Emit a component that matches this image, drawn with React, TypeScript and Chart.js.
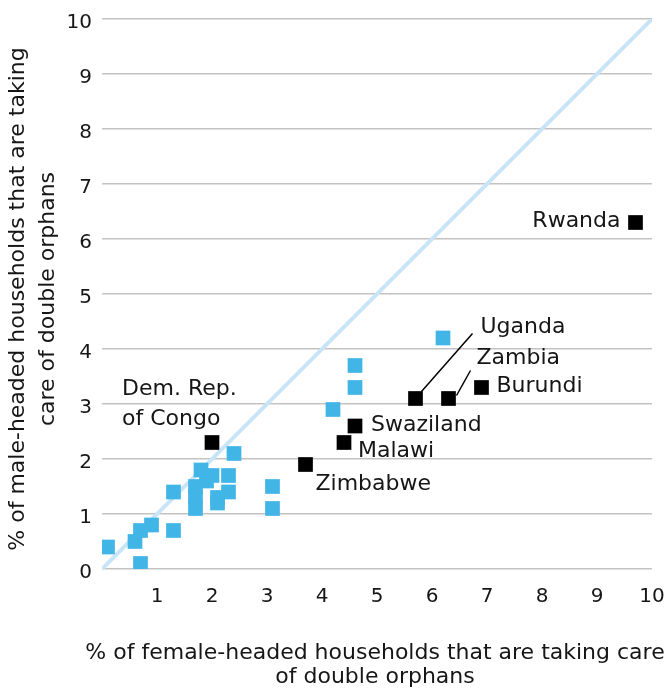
import React, { useEffect, useRef } from "react";
import { Chart, registerables } from "chart.js";

Chart.register(...registerables);

// Blue squares: other countries [female %, male %]
const otherX = [0.1, 0.6, 0.7, 0.9, 0.7, 1.3, 1.3, 1.7, 1.7, 1.7, 1.8, 1.9, 2.0, 2.1, 2.1, 2.3, 2.3, 2.4, 3.1, 3.1, 4.2, 4.6, 4.6, 6.2];
const otherY = [0.4, 0.5, 0.7, 0.8, 0.1, 1.4, 0.7, 1.5, 1.3, 1.1, 1.8, 1.6, 1.7, 1.3, 1.2, 1.7, 1.4, 2.1, 1.5, 1.1, 2.9, 3.3, 3.7, 4.2];

// Black squares: labelled countries
const namedCountries = ["Dem. Rep.\nof Congo", "Zimbabwe", "Malawi", "Swaziland", "Uganda", "Zambia", "Burundi", "Rwanda"];
const namedX = [2.0, 3.7, 4.4, 4.6, 5.7, 6.3, 6.9, 9.7];
const namedY = [2.3, 1.9, 2.3, 2.6, 3.1, 3.1, 3.3, 6.3];

// Equality line
const diagX = [0, 10];
const diagY = [0, 10];

const xTicks = [0, 1, 2, 3, 4, 5, 6, 7, 8, 9, 10];
const yTicks = [0, 1, 2, 3, 4, 5, 6, 7, 8, 9, 10];

const xTitle = ["% of female-headed households that are taking care", "of double orphans"];
const yTitle = ["% of male-headed households that are taking", "care of double orphans"];

const FONT = "'DejaVu Sans', sans-serif";
const TEXT = "#161616";

// label placement relative to the point (pixels): dx, dy, align, optional leader line
const labelStyle: Record<string, { dx: number; dy: number; align: CanvasTextAlign; lead?: number[] }> = {
  "Dem. Rep.\nof Congo": { dx: -90, dy: -53, align: "left" },
  Zimbabwe: { dx: 10, dy: 20, align: "left" },
  Malawi: { dx: 14, dy: 9, align: "left" },
  Swaziland: { dx: 16, dy: -1, align: "left" },
  Uganda: { dx: 65, dy: -71, align: "left", lead: [6, -7, 57, -65] },
  Zambia: { dx: 28, dy: -40, align: "left", lead: [8, -3, 22, -28] },
  Burundi: { dx: 15, dy: -1, align: "left" },
  Rwanda: { dx: -15, dy: -1, align: "right" },
};

const annotate = {
  id: "annotate",
  afterDatasetsDraw(chart: any) {
    const ctx = chart.ctx;
    const xs = chart.scales.x;
    const ys = chart.scales.y;
    ctx.save();
    ctx.fillStyle = TEXT;
    ctx.strokeStyle = "#000";
    ctx.font = `22px ${FONT}`;
    ctx.textBaseline = "middle";
    namedCountries.forEach((name, i) => {
      const px = xs.getPixelForValue(namedX[i]);
      const py = ys.getPixelForValue(namedY[i]);
      const st = labelStyle[name];
      if (st.lead) {
        ctx.lineWidth = 1.5;
        ctx.beginPath();
        ctx.moveTo(px + st.lead[0], py + st.lead[1]);
        ctx.lineTo(px + st.lead[2], py + st.lead[3]);
        ctx.stroke();
      }
      ctx.textAlign = st.align;
      name.split("\n").forEach((line, j) => {
        ctx.fillText(line, px + st.dx, py + st.dy + j * 30);
      });
    });
    ctx.restore();
  },
  afterDraw(chart: any) {
    const ctx = chart.ctx;
    ctx.save();
    ctx.fillStyle = TEXT;
    ctx.font = `22px ${FONT}`;
    ctx.textAlign = "center";
    ctx.textBaseline = "middle";
    ctx.fillText(xTitle[0], 375, 653);
    ctx.fillText(xTitle[1], 375, 677);
    ctx.translate(0, 299);
    ctx.rotate(-Math.PI / 2);
    ctx.fillText(yTitle[0], 0, 18);
    ctx.fillText(yTitle[1], 0, 48);
    ctx.restore();
  },
};

export default function App() {
  const ref = useRef<HTMLCanvasElement>(null);
  useEffect(() => {
    if (!ref.current) return;
    const chart = new Chart(ref.current, {
      type: "scatter",
      data: {
        datasets: [
          {
            type: "line",
            data: diagX.map((x, i) => ({ x, y: diagY[i] })),
            borderColor: "#c8e5f7",
            borderWidth: 4,
            pointRadius: 0,
            order: 3,
          } as any,
          {
            data: otherX.map((x, i) => ({ x, y: otherY[i] })),
            pointStyle: "rect",
            pointRadius: 10.4,
            pointBorderWidth: 0,
            backgroundColor: "#42b5e7",
            borderWidth: 0,
            order: 2,
          },
          {
            data: namedX.map((x, i) => ({ x, y: namedY[i] })),
            pointStyle: "rect",
            pointRadius: 10.4,
            pointBorderWidth: 0,
            backgroundColor: "#000000",
            borderWidth: 0,
            order: 1,
          },
        ],
      },
      options: {
        responsive: false,
        animation: false,
        layout: { padding: { top: 19, right: 18, left: 0, bottom: 0 } },
        plugins: { legend: { display: false }, tooltip: { enabled: false } },
        scales: {
          x: {
            type: "linear",
            min: 0,
            max: 10,
            afterFit: (s: any) => {
              s.height = 123;
              s.paddingLeft = 0;
              s.paddingRight = 0;
            },
            afterBuildTicks: (s: any) => { s.ticks = xTicks.map((v) => ({ value: v })); },
            grid: { display: false, drawTicks: false },
            border: { display: false },
            ticks: {
              padding: 16,
              color: TEXT,
              font: { family: FONT, size: 20 },
              callback: (v: any) => (v === 0 ? "" : String(v)),
            },
          },
          y: {
            type: "linear",
            min: 0,
            max: 10,
            afterFit: (s: any) => {
              s.width = 102;
              s.paddingTop = 0;
              s.paddingBottom = 0;
            },
            afterBuildTicks: (s: any) => { s.ticks = yTicks.map((v) => ({ value: v })); },
            grid: { color: "#c3c3c3", lineWidth: 1.6, drawTicks: false },
            border: { display: false },
            ticks: {
              padding: 10,
              labelOffset: 4,
              color: TEXT,
              font: { family: FONT, size: 20 },
            },
          },
        },
      },
      plugins: [annotate],
    });
    return () => chart.destroy();
  }, []);
  return (
    <div style={{ position: "fixed", left: 0, top: 0, width: 670, height: 692, background: "#fff" }}>
      <canvas ref={ref} width={670} height={692} style={{ display: "block" }} />
    </div>
  );
}
